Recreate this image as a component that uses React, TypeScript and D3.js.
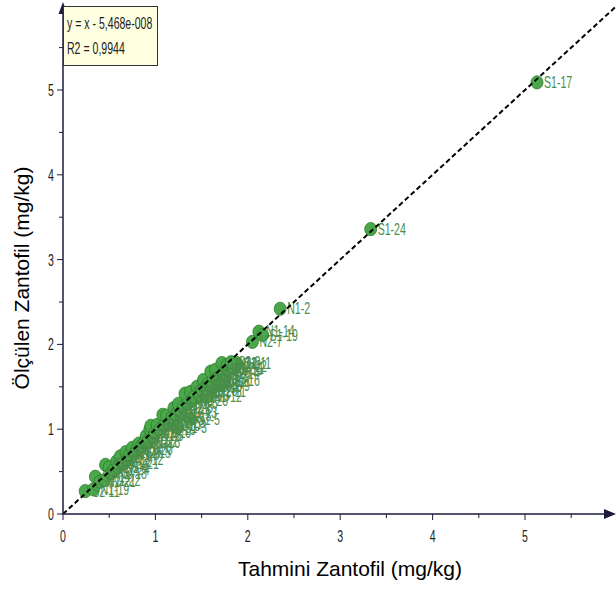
import React from "react";
import * as d3 from "d3";

// Predicted vs. measured zeaxanthin per sample
const sampleIds = [
  "S2-11", "N1-19", "S2-14", "N2-21", "N1-22", "S2-9", "S2-5", "N2-18", "N1-24", "S2-12",
  "N2-4", "S2-3", "N1-21", "S2-20", "N2-12", "N1-8", "S2-1", "N2-15", "N1-20", "S2-7",
  "N2-6", "N1-16", "S2-18", "N2-2", "S2-6", "S2-22", "N1-5", "N2-10", "S1-10", "N2-19",
  "S2-16", "N1-10", "S1-8", "N2-23", "N1-3", "S1-21", "N2-13", "S1-3", "S1-2", "N1-13",
  "N2-8", "S1-14", "N1-6", "S1-5", "S1-22", "N2-20", "N1-7", "S1-15", "N2-3", "N1-23",
  "S1-23", "N2-16", "N1-17", "S1-9", "N2-11", "N1-18", "S1-6", "N2-5", "N1-9", "S1-12",
  "N2-14", "S1-16", "N1-15", "S1-4", "N2-22", "N2-1", "S1-11", "N2-9", "N1-12", "S2-2",
  "N2-7", "N1-14", "S1-19", "N1-2", "S1-24", "S1-17",
];
const predicted = [
  0.24, 0.33, 0.35, 0.40, 0.45, 0.46, 0.50, 0.52, 0.55, 0.58,
  0.60, 0.62, 0.65, 0.68, 0.70, 0.72, 0.75, 0.78, 0.80, 0.82,
  0.85, 0.88, 0.90, 0.92, 0.94, 0.95, 0.98, 1.00, 1.02, 1.05,
  1.08, 1.10, 1.12, 1.15, 1.18, 1.20, 1.22, 1.24, 1.25, 1.28,
  1.30, 1.32, 1.35, 1.38, 1.38, 1.40, 1.42, 1.45, 1.48, 1.50,
  1.52, 1.55, 1.58, 1.60, 1.60, 1.62, 1.65, 1.66, 1.70, 1.72,
  1.74, 1.75, 1.78, 1.78, 1.82, 1.85, 1.88, 1.70, 1.55, 1.82,
  2.05, 2.12, 2.16, 2.35, 3.33, 5.13,
];
const measured = [
  0.27, 0.29, 0.44, 0.38, 0.40, 0.58, 0.55, 0.48, 0.52, 0.62,
  0.55, 0.68, 0.60, 0.73, 0.64, 0.70, 0.78, 0.72, 0.76, 0.83,
  0.80, 0.84, 0.92, 0.86, 1.00, 1.04, 0.92, 0.96, 1.05, 1.00,
  1.17, 1.04, 1.16, 1.08, 1.14, 1.25, 1.16, 1.02, 1.30, 1.20,
  1.26, 1.42, 1.30, 1.12, 1.44, 1.34, 1.38, 1.50, 1.40, 1.46,
  1.58, 1.50, 1.54, 1.68, 1.45, 1.56, 1.70, 1.60, 1.62, 1.78,
  1.66, 1.58, 1.70, 1.76, 1.74, 1.72, 1.78, 1.52, 1.38, 1.79,
  2.03, 2.15, 2.11, 2.42, 3.36, 5.09,
];

const majorTicks = [0, 1, 2, 3, 4, 5];
const minorTicks = [0.5, 1.5, 2.5, 3.5, 4.5, 5.5];
const fitLabel = "y = x - 5,468e-008";
const r2Label = "R2 = 0,9944";
const xTitle = "Tahmini Zantofil (mg/kg)";
const yTitle = "Ölçülen Zantofil (mg/kg)";
const fitIntercept = -5.468e-8;

const W = 616;
const H = 590;
const sans = "'Liberation Sans', Arial, sans-serif";
const axisColor = "#1c1c3c";

// Condensed text: regular sans squeezed horizontally
function Narrow(props: {
  x: number;
  y: number;
  size?: number;
  anchor?: "start" | "middle" | "end";
  fill?: string;
  children: React.ReactNode;
}) {
  const { x, y, size = 16, anchor = "start", fill = "#222", children } = props;
  return (
    <text
      transform={`translate(${x},${y}) scale(0.66,1)`}
      fontFamily={sans}
      fontSize={size}
      textAnchor={anchor}
      fill={fill}
    >
      {children}
    </text>
  );
}

export default function App() {
  const x = d3.scaleLinear().domain([0, 6]).range([63, 617.4]);
  const y = d3.scaleLinear().domain([0, 6]).range([514, 5.2]);
  const pts = sampleIds.map((id, i) => ({ id, px: predicted[i], py: measured[i] }));
  const fitLine = d3
    .line<number>()
    .x((v) => x(v))
    .y((v) => y(v + fitIntercept));

  return (
    <svg
      width={W}
      height={H}
      style={{ position: "absolute", left: 0, top: 0, background: "#fff" }}
    >
      {/* points and sample labels */}
      <g>
        {pts.map((p) => (
          <ellipse
            key={"c" + p.id}
            cx={x(p.px)}
            cy={y(p.py)}
            rx={6}
            ry={6.6}
            fill="#4aa74a"
            stroke="#2f7d2f"
            strokeWidth={0.8}
          />
        ))}
        {pts.map((p) => (
          <Narrow key={"t" + p.id} x={x(p.px) + 7} y={y(p.py) + 5.5} size={16} fill="#4a8c4a">
            {p.id}
          </Narrow>
        ))}
      </g>

      {/* regression line */}
      <path
        d={fitLine([0, 6]) || ""}
        fill="none"
        stroke="#000"
        strokeWidth={2}
        strokeDasharray="5,3"
      />

      {/* x axis */}
      <g>
        <line x1={63} x2={610} y1={514} y2={514} stroke={axisColor} strokeWidth={1.5} />
        <path d="M616,514 L604,509 L604,519 Z" fill={axisColor} />
        {majorTicks.map((t) => (
          <g key={"xt" + t}>
            <line x1={x(t)} x2={x(t)} y1={514} y2={520} stroke={axisColor} strokeWidth={1} />
            <Narrow x={x(t)} y={542} size={16} anchor="middle">
              {t}
            </Narrow>
          </g>
        ))}
        {minorTicks.map((t) => (
          <line key={"xm" + t} x1={x(t)} x2={x(t)} y1={514} y2={518} stroke={axisColor} strokeWidth={1} />
        ))}
      </g>

      {/* y axis */}
      <g>
        <line x1={63} x2={63} y1={514} y2={10} stroke={axisColor} strokeWidth={1.5} />
        <path d="M63,2 L58.5,14 L67.5,14 Z" fill={axisColor} />
        {majorTicks.map((t) => (
          <g key={"yt" + t}>
            <line x1={57} x2={63} y1={y(t)} y2={y(t)} stroke={axisColor} strokeWidth={1} />
            <Narrow x={54} y={y(t) + 6} size={16} anchor="end">
              {t}
            </Narrow>
          </g>
        ))}
        {minorTicks.map((t) => (
          <line key={"ym" + t} x1={59} x2={63} y1={y(t)} y2={y(t)} stroke={axisColor} strokeWidth={1} />
        ))}
      </g>

      {/* equation box */}
      <g>
        <rect x={63.5} y={6.5} width={94} height={59} fill="#ffffe1" stroke="#333" strokeWidth={1} />
        <Narrow x={67} y={29} size={16}>
          {fitLabel}
        </Narrow>
        <Narrow x={67} y={54} size={16}>
          {r2Label}
        </Narrow>
      </g>

      {/* axis titles */}
      <text x={350} y={576} textAnchor="middle" fontFamily={sans} fontSize={21} fill="#000">
        {xTitle}
      </text>
      <text
        transform="translate(29,278) rotate(-90)"
        textAnchor="middle"
        fontFamily={sans}
        fontSize={21}
        fill="#000"
      >
        {yTitle}
      </text>
    </svg>
  );
}
